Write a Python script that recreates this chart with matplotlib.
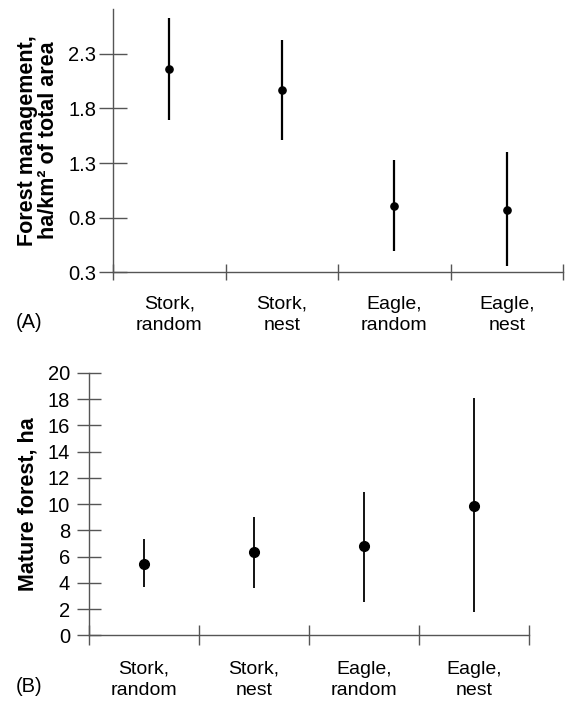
import matplotlib
matplotlib.use("Agg")
import matplotlib.pyplot as plt
import numpy as np

plt.rcParams['font.family'] = ['Liberation Sans', 'DejaVu Sans']

categories = ["Stork,\nrandom", "Stork,\nnest", "Eagle,\nrandom", "Eagle,\nnest"]

# Panel A: forest management (ha/km² of total area)
a_mean = [2.16, 1.97, 0.905, 0.87]
a_low = [1.69, 1.51, 0.49, 0.355]
a_high = [2.63, 2.43, 1.33, 1.40]
a_ticks = [0.3, 0.8, 1.3, 1.8, 2.3]

# Panel B: mature forest (ha)
b_mean = [5.47, 6.34, 6.79, 9.89]
b_low = [3.71, 3.59, 2.57, 1.76]
b_high = [7.35, 9.05, 10.96, 18.09]
b_ticks = list(range(0, 21, 2))

fig = plt.figure(figsize=(5.65, 7.05), dpi=100)
axA = fig.add_axes([0.2000, 0.614, 0.7965, 0.373])
axB = fig.add_axes([0.1575, 0.0989, 0.7788, 0.3721])

spine_col = '#555555'

def style(ax, ticks, ylim, fs, fmt, ylen, ypad, xlen, xpad):
    x = np.arange(len(categories))
    ax.set_xlim(-0.5, len(categories) - 0.5)
    ax.set_ylim(*ylim)
    for s in ['top', 'right']:
        ax.spines[s].set_visible(False)
    for s in ['left', 'bottom']:
        ax.spines[s].set_color(spine_col)
        ax.spines[s].set_linewidth(1.0)
    ax.set_yticks(ticks)
    ax.set_yticklabels([fmt(t) for t in ticks], fontsize=fs)
    ax.tick_params(axis='y', direction='inout', length=ylen, width=1.0, color=spine_col, pad=ypad)
    ax.set_xticks(np.arange(len(categories) + 1) - 0.5)
    ax.set_xticklabels([])
    ax.tick_params(axis='x', which='major', direction='inout', length=xlen, width=1.0, color=spine_col)
    ax.set_xticks(x, minor=True)
    ax.set_xticklabels(categories, minor=True, fontsize=14, linespacing=1.3)
    ax.tick_params(axis='x', which='minor', length=0, pad=xpad)

x = np.arange(len(categories))
axA.errorbar(x, a_mean,
             yerr=[np.array(a_mean) - np.array(a_low), np.array(a_high) - np.array(a_mean)],
             fmt='o', color='black', ms=5.2, elinewidth=1.6, capsize=0)
style(axA, a_ticks, (0.3, 2.71), 14.5, lambda t: f"{t:.1f}", 20, 2, 11, 17)
axA.set_ylabel("Forest management,\nha/km² of total area", fontsize=15.5, fontweight='bold', linespacing=0.95, labelpad=7)

axB.errorbar(x, b_mean,
             yerr=[np.array(b_mean) - np.array(b_low), np.array(b_high) - np.array(b_mean)],
             fmt='o', color='black', ms=7, elinewidth=1.3, capsize=0)
style(axB, b_ticks, (0, 20), 14.5, lambda t: f"{t:d}", 17, 5, 15, 18.5)
axB.set_ylabel("Mature forest, ha", fontsize=15.5, fontweight='bold', labelpad=7)

fig.text(16 / 565, 1 - 323 / 705, "(A)", fontsize=14.5, va='center', ha='left')
fig.text(16 / 565, 1 - 687 / 705, "(B)", fontsize=14.5, va='center', ha='left')

fig.savefig("out.png", dpi=100)
